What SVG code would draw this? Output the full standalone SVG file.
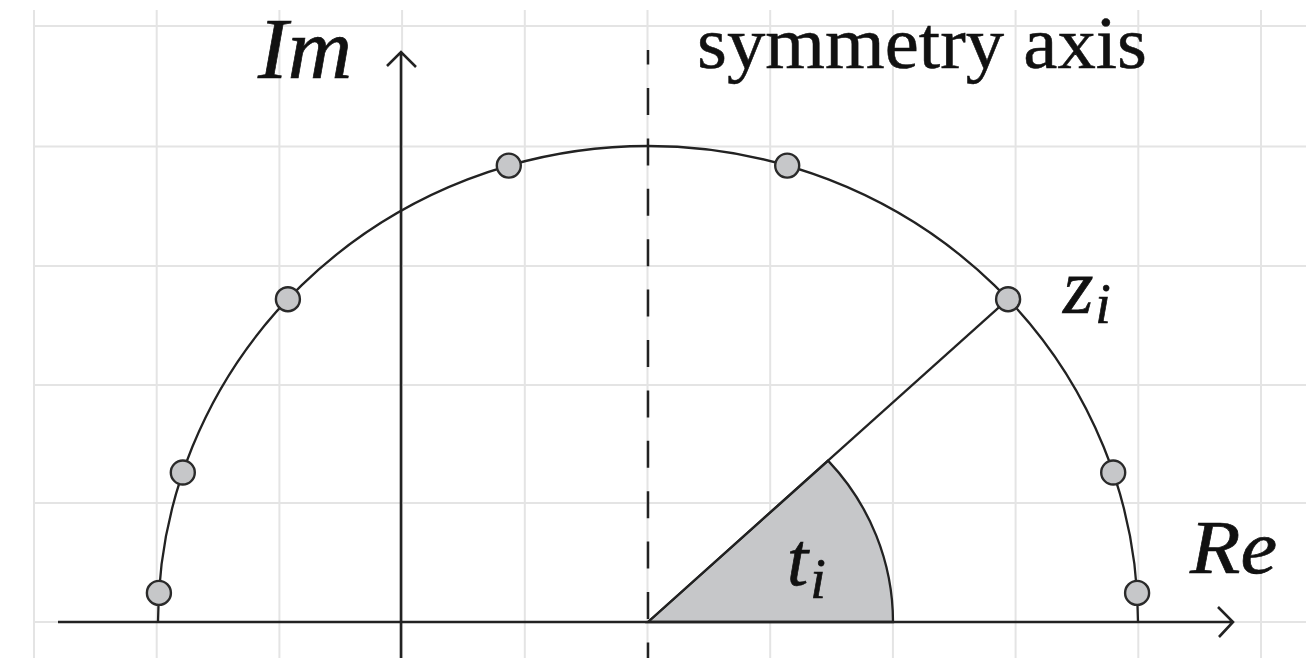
<svg xmlns="http://www.w3.org/2000/svg" width="1306" height="658" viewBox="0 0 1306 658">
<style>
.grid line{stroke:#e4e4e4;stroke-width:2}
.ax{stroke:#222;stroke-width:2.6;fill:none}
.curve{stroke:#222;stroke-width:2.3;fill:none}
.dot{fill:#c6c7c9;stroke:#2a2a2a;stroke-width:2.4}
.math{font-family:"Liberation Serif","DejaVu Serif",serif;font-style:italic;fill:#111;stroke:#111;stroke-width:0.7}
.lbl{font-family:"Liberation Serif","DejaVu Serif",serif;fill:#111;stroke:#111;stroke-width:0.5}
</style>
<rect width="1306" height="658" fill="#fff"/>
<g id="grid" class="grid">
<line x1="34" y1="10" x2="34" y2="658"/>
<line x1="156.7" y1="10" x2="156.7" y2="658"/>
<line x1="279.4" y1="10" x2="279.4" y2="658"/>
<line x1="402.1" y1="10" x2="402.1" y2="658"/>
<line x1="524.8" y1="10" x2="524.8" y2="658"/>
<line x1="647.5" y1="10" x2="647.5" y2="658"/>
<line x1="770.2" y1="10" x2="770.2" y2="658"/>
<line x1="892.9" y1="10" x2="892.9" y2="658"/>
<line x1="1015.6" y1="10" x2="1015.6" y2="658"/>
<line x1="1138.3" y1="10" x2="1138.3" y2="658"/>
<line x1="1261" y1="10" x2="1261" y2="658"/>
<line x1="33" y1="26" x2="1306" y2="26"/>
<line x1="33" y1="146.5" x2="1306" y2="146.5"/>
<line x1="33" y1="266" x2="1306" y2="266"/>
<line x1="33" y1="385" x2="1306" y2="385"/>
<line x1="33" y1="503" x2="1306" y2="503"/>
<line x1="33" y1="622" x2="1306" y2="622"/>
</g>
<g id="sector">
<path d="M648 622 L893 622 A245 238 0 0 0 828.05 460.6 Z" fill="#c6c7c9" stroke="#222" stroke-width="2.3"/>
</g>
<g id="connectors">
<path id="re-axis" class="ax" d="M58 622 H1233 M1218 607 L1233 622 L1219 637"/>
<path id="im-axis" class="ax" d="M401 658 V52 M387 66 L401 52 L416 67"/>
<path id="symmetry" d="M648 50 V658" stroke="#222" stroke-width="2.5" stroke-dasharray="27 23.4" stroke-dashoffset="12.4" fill="none"/>
<path id="arc" class="curve" d="M158 622 A490 476 0 0 1 1138 622"/>
<path id="radius" class="curve" d="M648 622 L1008.1 299.2"/>
</g>
<g id="points">
<circle class="dot" cx="1137.1" cy="592.9" r="12"/>
<circle class="dot" cx="1113.2" cy="472.5" r="12"/>
<circle class="dot" cx="1008.1" cy="299.2" r="12"/>
<circle class="dot" cx="787.2" cy="165.6" r="12"/>
<circle class="dot" cx="508.8" cy="165.6" r="12"/>
<circle class="dot" cx="287.9" cy="299.2" r="12"/>
<circle class="dot" cx="182.8" cy="472.5" r="12"/>
<circle class="dot" cx="158.9" cy="592.9" r="12"/>
</g>
<g id="labels">
<text class="math" x="258" y="78" font-size="86" textLength="94" lengthAdjust="spacingAndGlyphs">Im</text>
<text class="lbl" x="697" y="68" font-size="75" textLength="450" lengthAdjust="spacingAndGlyphs">symmetry axis</text>
<text class="math" x="1063" y="313" font-size="78">z<tspan font-size="56" dx="2" dy="10">i</tspan></text>
<text class="math" x="1190" y="573" font-size="77" textLength="87" lengthAdjust="spacingAndGlyphs">Re</text>
<text class="math" x="787" y="585" font-size="76">t<tspan font-size="56" dx="2" dy="13">i</tspan></text>
</g>
</svg>
